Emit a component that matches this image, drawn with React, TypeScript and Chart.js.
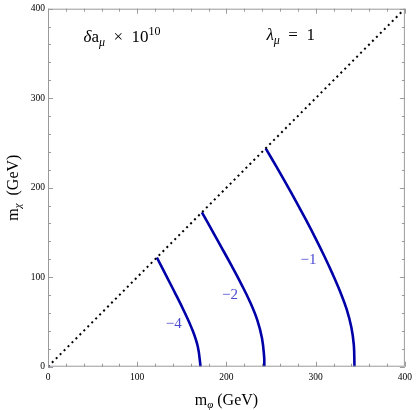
import React, { useEffect, useRef } from "react";
import { Chart, registerables } from "chart.js";

Chart.register(...registerables);

// Axis ranges / ticks
const axisMin = 0;
const axisMax = 400;
const majorStep = 100;
const minorStep = 20;

// Diagonal boundary m_chi = m_phi
const diagonal = [
  { x: 0, y: 0 },
  { x: 400, y: 400 },
];

// Contour δa_μ×10^10 = -1
const contourM1X = [244, 255.7, 267.2, 278.4, 289.2, 299.6, 309.5, 318.8, 327.4, 334.8, 340.0, 342.8, 343.5];
const contourM1Y = [244, 224, 204, 184, 164, 144, 124, 104, 84, 64, 44, 24, 0];
// Contour = -2
const contourM2X = [172.5, 184, 195.2, 206.2, 216.8, 226.6, 234.6, 239.8, 242.2, 242.5];
const contourM2Y = [172.5, 152, 132, 112, 92, 72, 52, 32, 12, 0];
// Contour = -4
const contourM4X = [122, 132.3, 142.6, 152.5, 161.5, 168, 171];
const contourM4Y = [122, 102, 82, 62, 42, 22, 0];

// Contour labels
const labelTexts = ["\u22124", "\u22122", "\u22121"];
const labelX = [141, 204, 292];
const labelY = [48, 80, 119];

const SERIF = "'Liberation Serif', 'DejaVu Serif', serif";
const CURVE_COLOR = "#0000a8";
const LABEL_COLOR = "#4a4ad2";

type Seg = { t: string; size: number; dy?: number; italic?: boolean };

function drawRich(ctx: CanvasRenderingContext2D, segs: Seg[], cx: number, cy: number) {
  let total = 0;
  const widths: number[] = [];
  for (const s of segs) {
    ctx.font = `${s.italic ? "italic " : ""}${s.size}px ${SERIF}`;
    const w = ctx.measureText(s.t).width;
    widths.push(w);
    total += w;
  }
  let x = cx - total / 2;
  ctx.textBaseline = "alphabetic";
  ctx.textAlign = "left";
  segs.forEach((s, i) => {
    ctx.font = `${s.italic ? "italic " : ""}${s.size}px ${SERIF}`;
    ctx.fillText(s.t, x, cy + (s.dy || 0));
    x += widths[i];
  });
}

const zip = (xs: number[], ys: number[]) => xs.map((x, i) => ({ x, y: ys[i] }));

const framePlugin = {
  id: "frameTicks",
  afterDatasetsDraw(chart: any) {
    const { ctx, chartArea: a, scales } = chart;
    const xs = scales.x;
    const ys = scales.y;
    ctx.save();
    ctx.strokeStyle = "#9a9a9a";
    ctx.lineWidth = 1;
    ctx.strokeRect(a.left + 0.5, a.top + 0.5, a.right - a.left - 1, a.bottom - a.top - 1);
    ctx.beginPath();
    for (let v = axisMin; v <= axisMax; v += minorStep) {
      const len = v % majorStep === 0 ? 5 : 3;
      const px = Math.round(xs.getPixelForValue(v)) + 0.5;
      const py = Math.round(ys.getPixelForValue(v)) + 0.5;
      ctx.moveTo(px, a.bottom);
      ctx.lineTo(px, a.bottom - len);
      ctx.moveTo(px, a.top);
      ctx.lineTo(px, a.top + len);
      ctx.moveTo(a.left, py);
      ctx.lineTo(a.left + len, py);
      ctx.moveTo(a.right, py);
      ctx.lineTo(a.right - len, py);
    }
    ctx.stroke();
    ctx.restore();
  },
  afterDraw(chart: any) {
    const { ctx, chartArea: a, scales } = chart;
    const xs = scales.x;
    const ys = scales.y;
    ctx.save();
    // contour labels
    ctx.fillStyle = LABEL_COLOR;
    ctx.font = `15px ${SERIF}`;
    ctx.textAlign = "center";
    ctx.textBaseline = "middle";
    labelTexts.forEach((t, i) => {
      ctx.fillText(t, xs.getPixelForValue(labelX[i]), ys.getPixelForValue(labelY[i]));
    });
    ctx.fillStyle = "#000";
    // annotations
    drawRich(
      ctx,
      [
        { t: "\u03b4", size: 17, italic: true },
        { t: "a", size: 17 },
        { t: "\u03bc", size: 12, dy: 4, italic: true },
        { t: "  \u00d7  ", size: 17 },
        { t: "10", size: 17 },
        { t: "10", size: 12, dy: -7 },
      ],
      xs.getPixelForValue(83),
      ys.getPixelForValue(370) + 6
    );
    drawRich(
      ctx,
      [
        { t: "\u03bb", size: 17, italic: true },
        { t: "\u03bc", size: 12, dy: 4, italic: true },
        { t: "  =  ", size: 17 },
        { t: "1", size: 17 },
      ],
      xs.getPixelForValue(272),
      ys.getPixelForValue(372) + 6
    );
    // axis titles
    drawRich(
      ctx,
      [
        { t: "m", size: 16 },
        { t: "\u03c6", size: 11, dy: 3, italic: true },
        { t: " (GeV)", size: 16 },
      ],
      (a.left + a.right) / 2,
      a.bottom + 38
    );
    ctx.translate(a.left - 30, (a.top + a.bottom) / 2);
    ctx.rotate(-Math.PI / 2);
    drawRich(
      ctx,
      [
        { t: "m", size: 16 },
        { t: "\u03c7", size: 11, dy: 3, italic: true },
        { t: "  (GeV)", size: 16 },
      ],
      0,
      0
    );
    ctx.restore();
  },
};

export default function App() {
  const ref = useRef<HTMLCanvasElement | null>(null);
  useEffect(() => {
    if (!ref.current) return;
    const lineDs = (data: any[]) => ({
      data,
      showLine: true,
      borderColor: CURVE_COLOR,
      borderWidth: 2.6,
      pointRadius: 0,
      tension: 0.4,
      fill: false,
    });
    const chart = new Chart(ref.current, {
      type: "scatter",
      data: {
        datasets: [
          {
            data: diagonal,
            showLine: true,
            borderColor: "#000",
            borderWidth: 2,
            borderDash: [2, 3.6],
            pointRadius: 0,
            fill: false,
          },
          lineDs(zip(contourM1X, contourM1Y)),
          lineDs(zip(contourM2X, contourM2Y)),
          lineDs(zip(contourM4X, contourM4Y)),
          {
            data: [{ x: 0, y: 0 }],
            pointRadius: 2,
            pointBackgroundColor: CURVE_COLOR,
            pointBorderWidth: 0,
          },
        ],
      },
      options: {
        animation: false,
        responsive: true,
        maintainAspectRatio: false,
        events: [],
        layout: { padding: { left: 0, top: 6, right: 8, bottom: 0 } },
        plugins: { legend: { display: false }, tooltip: { enabled: false }, title: { display: false } },
        scales: {
          x: {
            type: "linear",
            min: axisMin,
            max: axisMax,
            grid: { display: false, drawTicks: false },
            border: { display: false },
            ticks: {
              stepSize: majorStep,
              padding: 5,
              maxRotation: 0,
              color: "#000",
              font: { family: SERIF, size: 9.5 },
            },
            afterFit: (s: any) => {
              s.height = 43.3;
            },
          },
          y: {
            type: "linear",
            min: axisMin,
            max: axisMax,
            grid: { display: false, drawTicks: false },
            border: { display: false },
            ticks: {
              stepSize: majorStep,
              padding: 3,
              color: "#000",
              font: { family: SERIF, size: 9.5 },
            },
            afterFit: (s: any) => {
              s.width = 48;
            },
          },
        },
      },
      plugins: [framePlugin],
    });
    return () => chart.destroy();
  }, []);
  return (
    <div style={{ position: "absolute", left: 0, top: 0, width: 417, height: 410, background: "#fff" }}>
      <canvas ref={ref} />
    </div>
  );
}
